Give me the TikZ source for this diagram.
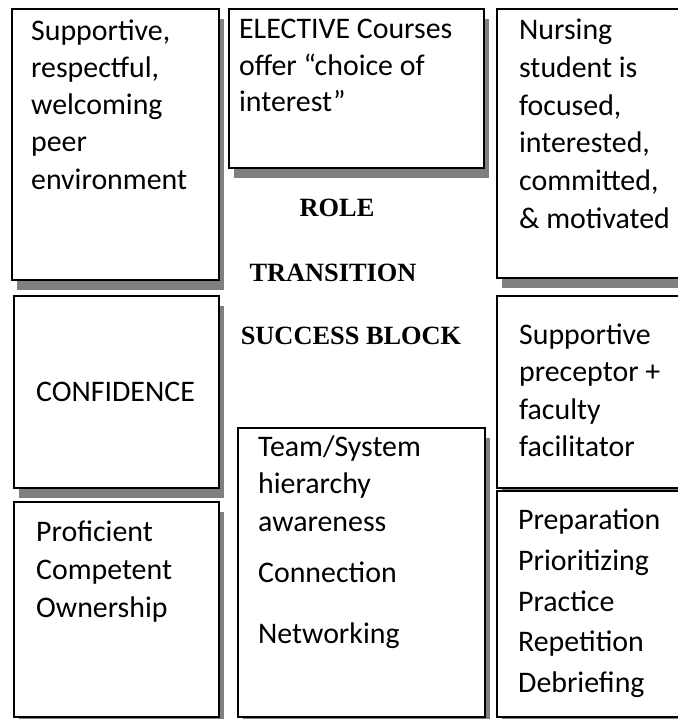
\documentclass[tikz,border=0pt]{standalone}
\usepackage{fontspec}
\setmainfont{Carlito}
\newfontfamily\headfont{Liberation Serif}
\usetikzlibrary{shadows}

\tikzset{
  block/.style={draw, rectangle, fill=white, line width=1.3pt, anchor=north west,
    align=flush left, inner ysep=0pt, inner xsep=0.42cm,
    font=\fontsize{17}{21.4}\selectfont,
    execute at begin node={\spaceskip=0pt\xspaceskip=0pt},
    drop shadow={shadow xshift=0.1cm, shadow yshift=-0.19cm, fill=black!50, opacity=1}},
  head/.style={anchor=base, inner sep=0pt, font=\headfont\bfseries\fontsize{15}{18}\selectfont}
}

\begin{document}
\begin{tikzpicture}[x=0.02cm, y=-0.02cm]

\clip (0,0) rectangle (678,719);

% top row
\node[block, inner xsep=0.38cm, text width=3.38cm, text height=0.62cm, text depth=4.80cm,
      font=\fontsize{17}{21.2}\selectfont] (peer) at (11,8)
      {Supportive,\\respectful,\\welcoming\\peer\\environment};
\node[block, inner xsep=0.2cm, text width=4.70cm, text height=0.58cm, text depth=2.60cm,
      font=\fontsize{17}{21}\selectfont] (elective) at (228,8)
      {ELECTIVE Courses\\offer ``choice of\\interest''};
\node[block, inner xsep=0.44cm, text width=3.12cm, text height=0.60cm, text depth=4.78cm,
      font=\fontsize{17}{21.6}\selectfont] (student) at (496,8)
      {Nursing\\student is\\focused,\\interested,\\committed,\\\& motivated};

% middle row
\node[block, inner xsep=0.44cm, text width=3.22cm, text height=2.10cm, text depth=1.74cm] (confidence) at (13,295)
      {CONFIDENCE};
\node[block, inner xsep=0.44cm, text width=3.12cm, text height=0.96cm, text depth=2.88cm] (preceptor) at (496,295)
      {Supportive\\preceptor +\\faculty\\facilitator};

% bottom row
\node[block, inner xsep=0.44cm, text width=3.22cm, text height=0.78cm, text depth=3.52cm,
      font=\fontsize{17}{21.6}\selectfont] (proficient) at (13,501)
      {Proficient\\Competent\\Ownership};
\node[block, inner xsep=0.40cm, text width=4.14cm, text height=0.56cm, text depth=5.22cm] (team) at (237,427)
      {Team/System\\hierarchy\\awareness\\[8pt]Connection\\[13pt]Networking};
\node[block, inner xsep=0.42cm, text width=3.16cm, text height=0.76cm, text depth=3.76cm,
      font=\fontsize{17}{23.3}\selectfont] (practice) at (496,490)
      {Preparation\\Prioritizing\\Practice\\Repetition\\Debriefing};

% centre title
\node[head] (role) at (337,217) {ROLE};
\node[head] (transition) at (333,281) {TRANSITION};
\node[head] (success) at (351,344) {SUCCESS BLOCK};

\end{tikzpicture}
\end{document}
